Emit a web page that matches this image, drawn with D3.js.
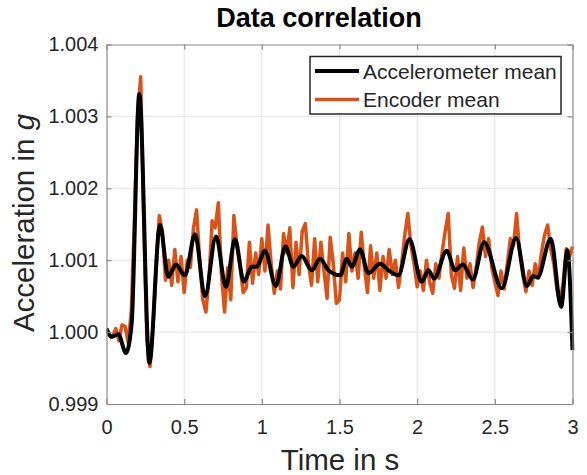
<!DOCTYPE html>
<html><head><meta charset="utf-8">
<script src="https://cdn.jsdelivr.net/npm/d3@7"></script>
<style>body{margin:0;background:#fff}svg{display:block}text{font-family:"Liberation Sans",Arial,sans-serif}</style>
</head><body>
<script>
const title = "Data correlation";
const xTicks = [0, 0.5, 1, 1.5, 2, 2.5, 3];
const xTickLabels = ["0", "0.5", "1", "1.5", "2", "2.5", "3"];
const yTicks = [0.999, 1.000, 1.001, 1.002, 1.003, 1.004];
const yTickLabels = ["0.999", "1.000", "1.001", "1.002", "1.003", "1.004"];
const seriesNames = ["Accelerometer mean", "Encoder mean"];

// Accelerometer mean (smooth) : time in s, acceleration in g
const accTime = [0,0.033,0.076,0.125,0.162,0.211,0.276,0.344,0.398,0.447,0.505,0.57,0.634,0.705,0.769,0.827,0.885,0.935,0.967,1.02,1.09,1.152,1.203,1.257,1.321,1.375,1.428,1.504,1.547,1.579,1.632,1.686,1.761,1.815,1.879,1.95,2.03,2.072,2.109,2.19,2.244,2.294,2.358,2.431,2.545,2.637,2.706,2.748,2.775,2.86,2.927,2.967,3.0];
const accValue = [1.00005,0.999935,0.99997,0.99971,1.00012,1.00331,0.99957,1.00149,1.00077,1.00094,1.00079,1.00136,1.0005,1.00133,1.00063,1.00129,1.0007,1.00091,1.00091,1.00113,1.00064,1.00119,1.00091,1.00106,1.00086,1.00102,1.00086,1.00079,1.00102,1.00091,1.00115,1.00082,1.00095,1.00086,1.00079,1.00129,1.0007,1.00086,1.000745,1.00113,1.00086,1.00094,1.00073,1.00125,1.00061,1.00131,1.00064,1.00078,1.00076,1.0013,1.00035,1.00114,0.99975];

// Encoder mean (noisy), sampled every 0.02 s from 0 to 3 s
const encStart = 0, encStep = 0.02;
const encValue = [
1.00002,0.99996,0.99994,1.00005,0.99988,1.0001,1.00008,0.99985,1.0003,1.0016,
1.003,1.00355,1.0015,0.9999,0.99952,1.0001,1.0009,1.00162,1.0014,1.00072,
1.001,1.00065,1.00115,1.0007,1.00105,1.00055,1.001,1.0009,1.00145,1.0017,
1.001,1.00045,1.00028,1.00075,1.00155,1.00145,1.0018,1.0008,1.00028,1.0009,
1.00045,1.00162,1.0012,1.0009,1.00055,1.00062,1.00125,1.00068,1.0011,1.0008,
1.0013,1.00085,1.00149,1.00095,1.00054,1.00085,1.0006,1.00137,1.0011,1.00145,
1.00062,1.00125,1.0008,1.0014,1.00151,1.00095,1.00065,1.0013,1.0007,1.00125,
1.00085,1.00047,1.00132,1.00095,1.0004,1.00045,1.0011,1.0007,1.00137,1.00085,
1.0011,1.00075,1.00139,1.0009,1.00055,1.0012,1.00075,1.0011,1.00058,1.00105,
1.00075,1.00115,1.0008,1.001,1.00062,1.00095,1.00135,1.00165,1.0012,1.00095,
1.00063,1.00085,1.00058,1.001,1.0007,1.00054,1.00095,1.00075,1.0011,1.0014,
1.00165,1.0008,1.00061,1.00105,1.00058,1.00117,1.00075,1.00095,1.00062,1.0009,
1.00125,1.00146,1.00105,1.0013,1.0009,1.0007,1.00051,1.00085,1.0006,1.00095,
1.0013,1.0012,1.00165,1.0011,1.0008,1.00056,1.00085,1.00065,1.00095,1.00075,
1.0011,1.00135,1.00149,1.00115,1.00095,1.00058,1.0004,1.0007,1.00116,1.00105,
1.00119];

const W = 587, H = 475;
const m = {left:106.5, right:572.5, top:44.5, bottom:404};
const svg = d3.select("body").append("svg").attr("width", W).attr("height", H);

const x = d3.scaleLinear().domain([0, 3]).range([m.left, m.right]);
const y = d3.scaleLinear().domain([0.999, 1.004]).range([m.bottom, m.top]);

const gridColor = "#e3e3e3", axisColor = "#8a8a8a", textColor = "#262626";

// grid
svg.append("g").selectAll("line").data(xTicks.slice(1, -1)).join("line")
  .attr("x1", d => x(d)).attr("x2", d => x(d)).attr("y1", m.top).attr("y2", m.bottom)
  .attr("stroke", gridColor).attr("stroke-width", 1);
svg.append("g").selectAll("line").data(yTicks.slice(1, -1)).join("line")
  .attr("y1", d => y(d)).attr("y2", d => y(d)).attr("x1", m.left).attr("x2", m.right)
  .attr("stroke", gridColor).attr("stroke-width", 1);

// data
const encData = encValue.map((v, i) => [encStart + i * encStep, v]);
const accData = accTime.map((t, i) => [t, accValue[i]]);
const clipId = "plotclip";
svg.append("clipPath").attr("id", clipId).append("rect")
  .attr("x", m.left).attr("y", m.top - 2).attr("width", m.right - m.left + 2).attr("height", m.bottom - m.top + 4);
const plot = svg.append("g").attr("clip-path", `url(#${clipId})`);
plot.append("path").datum(encData)
  .attr("d", d3.line().x(d => x(d[0])).y(d => y(d[1])))
  .attr("fill", "none").attr("stroke", "#D95319").attr("stroke-width", 3.5).attr("stroke-linejoin", "round");
plot.append("path").datum(accData)
  .attr("d", d3.line().curve(d3.curveMonotoneX).x(d => x(d[0])).y(d => y(d[1])))
  .attr("fill", "none").attr("stroke", "#000").attr("stroke-width", 4).attr("stroke-linejoin", "round");

// axes (box with inward ticks)
const tl = 5;
const axB = svg.append("g").attr("transform", `translate(0,${m.bottom})`)
  .call(d3.axisBottom(x).tickValues(xTicks).tickFormat((d, i) => xTickLabels[i]).tickSizeInner(-tl).tickSizeOuter(0).tickPadding(16));
const axT = svg.append("g").attr("transform", `translate(0,${m.top})`)
  .call(d3.axisTop(x).tickValues(xTicks).tickFormat("").tickSizeInner(-tl).tickSizeOuter(0));
const axL = svg.append("g").attr("transform", `translate(${m.left},0)`)
  .call(d3.axisLeft(y).tickValues(yTicks).tickFormat((d, i) => yTickLabels[i]).tickSizeInner(-tl).tickSizeOuter(0).tickPadding(8));
const axR = svg.append("g").attr("transform", `translate(${m.right},0)`)
  .call(d3.axisRight(y).tickValues(yTicks).tickFormat("").tickSizeInner(-tl).tickSizeOuter(0));
[axB, axT, axL, axR].forEach(a => {
  a.select(".domain").attr("stroke", axisColor).attr("stroke-width", 1.2);
  a.selectAll(".tick line").attr("stroke", axisColor).attr("stroke-width", 1.2);
  a.selectAll("text").attr("fill", textColor).style("font-size", "20px");
});

// title & labels
svg.append("text").attr("x", 319).attr("y", 27).attr("text-anchor", "middle")
  .style("font-size", "27px").style("font-weight", "bold").attr("fill", "#000").text(title);
svg.append("text").attr("x", 340).attr("y", 470).attr("text-anchor", "middle")
  .style("font-size", "29.5px").attr("fill", textColor).text("Time in s");
const yl = svg.append("text").attr("transform", `translate(34,223) rotate(-90)`)
  .attr("text-anchor", "middle").style("font-size", "29.5px").attr("fill", textColor);
yl.append("tspan").text("Acceleration in ");
yl.append("tspan").style("font-style", "italic").text("g");

// legend
const lg = svg.append("g");
lg.append("rect").attr("x", 310).attr("y", 56.5).attr("width", 251).attr("height", 57.5)
  .attr("fill", "#fff").attr("stroke", "#262626").attr("stroke-width", 1.5);
const legColors = ["#000", "#D95319"], legWidths = [4, 3.5];
seriesNames.forEach((name, i) => {
  const ly = 71 + i * 28.5;
  lg.append("line").attr("x1", 315).attr("x2", 359).attr("y1", ly).attr("y2", ly)
    .attr("stroke", legColors[i]).attr("stroke-width", legWidths[i]);
  lg.append("text").attr("x", 363).attr("y", ly + 7.5).style("font-size", "21px").attr("fill", textColor).text(name);
});
</script>
</body></html>
